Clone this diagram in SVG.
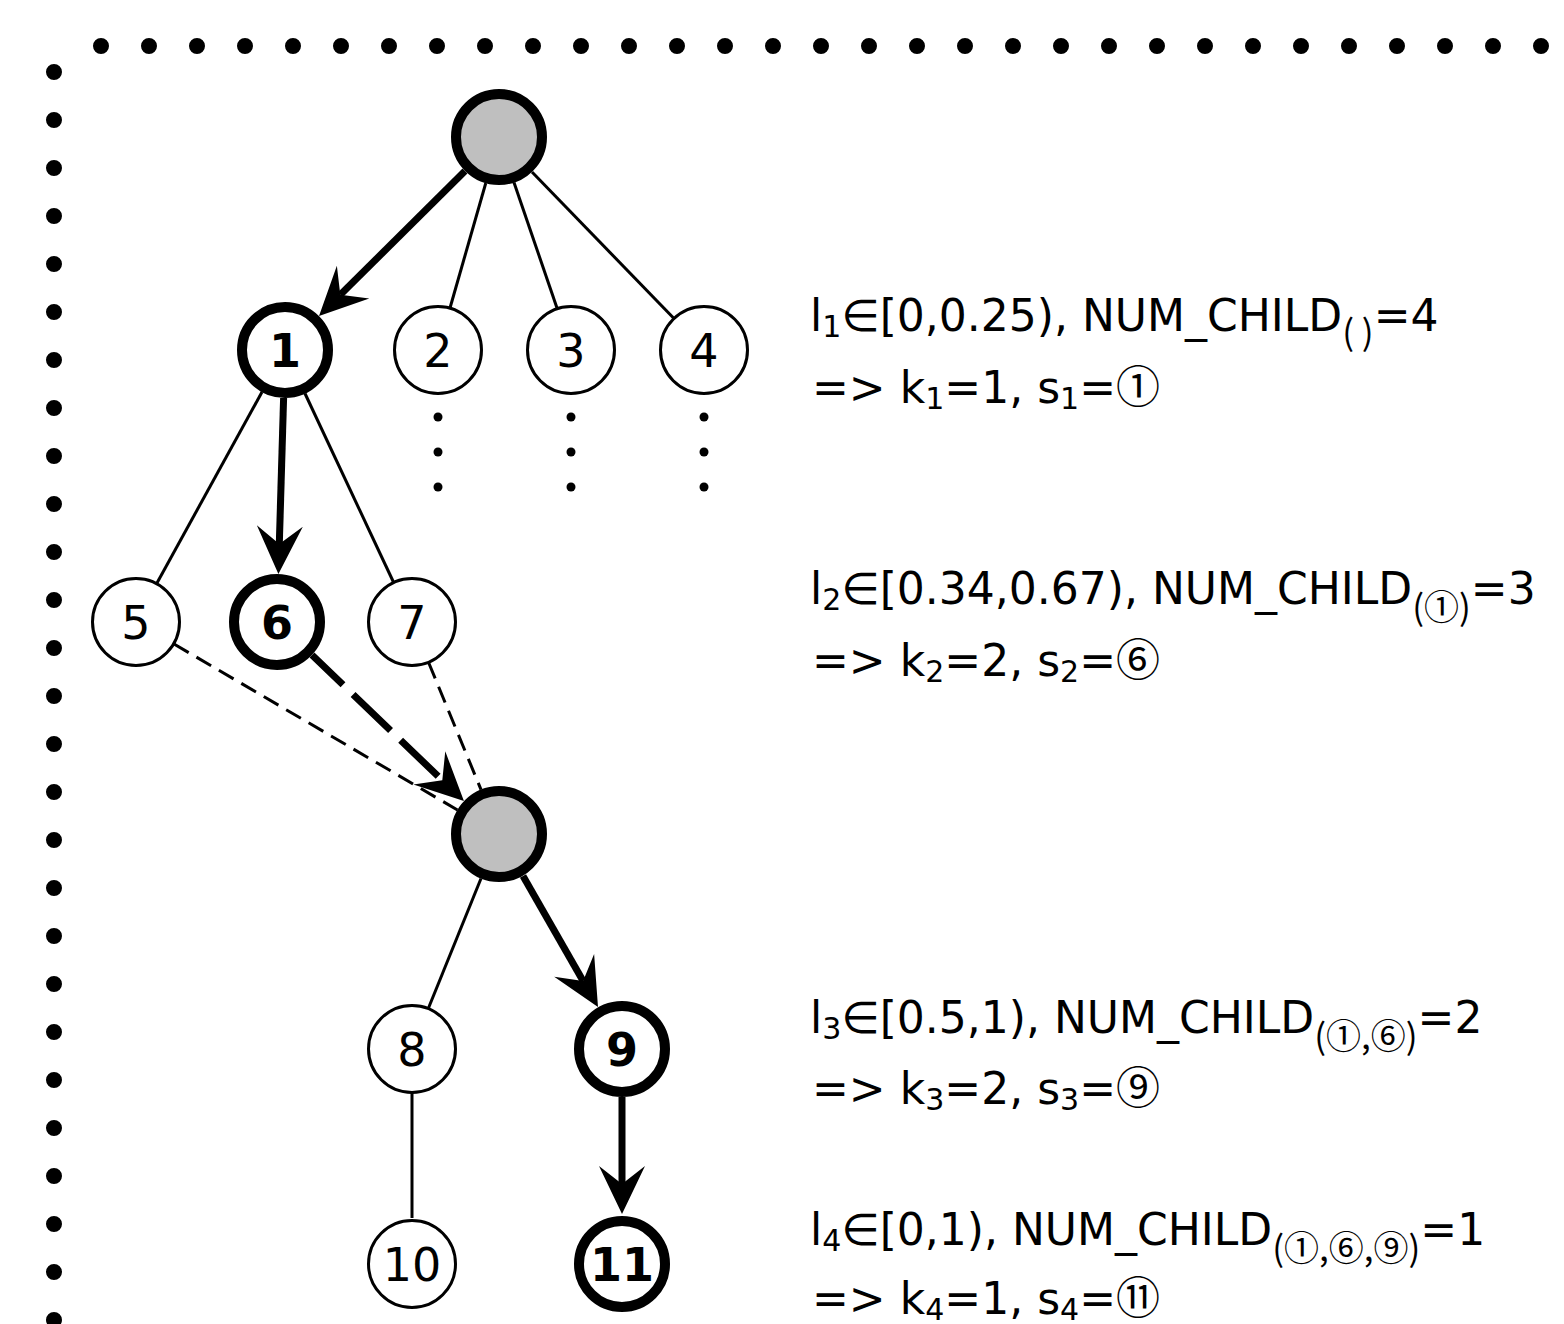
<svg xmlns="http://www.w3.org/2000/svg" width="1564" height="1324" viewBox="0 0 1564 1324">
<style>
  .border{fill:none;stroke:#000;stroke-width:16;stroke-linecap:round;stroke-dasharray:0 48}
  .thin{fill:#fff;stroke:#000;stroke-width:3}
  .thick{fill:#fff;stroke:#000;stroke-width:10}
  .gray{fill:#bfbfbf;stroke:#000;stroke-width:10}
  .lbl{font-family:"DejaVu Sans",sans-serif;font-size:46px;text-anchor:middle;fill:#000}
  .lblb{font-family:"DejaVu Sans",sans-serif;font-size:46px;font-weight:bold;text-anchor:middle;fill:#000}
  .e{fill:none;stroke:#000;stroke-width:3}
  .ed{fill:none;stroke:#000;stroke-width:3;stroke-dasharray:17 9}
  .et{fill:none;stroke:#000;stroke-width:7}
  .etd{fill:none;stroke:#000;stroke-width:7;stroke-dasharray:52 14;stroke-dashoffset:9}
  .dot{fill:#000}
  .txt{font-family:"DejaVu Sans","Noto Sans CJK SC",sans-serif;font-size:44px;fill:#000}
  .sub{font-size:30px}
  .csub{font-family:"Noto Sans CJK SC",sans-serif;font-size:35px}
  .cj{font-family:"Noto Sans CJK SC",sans-serif}
</style>
<defs>
  <marker id="arr" markerUnits="userSpaceOnUse" viewBox="0 -25 50 50" markerWidth="50" markerHeight="50" refX="18" refY="0" orient="auto" overflow="visible">
    <path d="M0,-23 L48,0 L0,23 L18,0 Z" fill="#000"/>
  </marker>
</defs>
<g id="border">
  <path class="border" d="M101,46 H1550"/>
  <path class="border" d="M54,72 V1330"/>
</g>
<g id="connectors">
  <path class="et" d="M465,171 L340.3,294.8" marker-end="url(#arr)"/>
  <path class="e" d="M485.8,183 L450,308"/>
  <path class="e" d="M514,182.5 L557,308"/>
  <path class="e" d="M532,172 L673.5,318"/>
  <path class="e" d="M262,392 L157,583"/>
  <path class="et" d="M283.6,398 L279.3,544" marker-end="url(#arr)"/>
  <path class="e" d="M305,393.5 L393.4,582"/>
  <path class="ed" d="M174,644 L457.5,810"/>
  <path class="etd" d="M312,655 L442.3,780.3" marker-end="url(#arr)"/>
  <path class="ed" d="M428.7,662.7 L481,789.6"/>
  <path class="e" d="M481,878.5 L428.5,1008"/>
  <path class="et" d="M523,876 L583.1,981" marker-end="url(#arr)"/>
  <path class="e" d="M412,1093 L412,1218"/>
  <path class="et" d="M622,1097 L622,1184" marker-end="url(#arr)"/>
</g>
<g id="ellipsis">
  <circle class="dot" cx="438" cy="417" r="4.5"/><circle class="dot" cx="438" cy="452" r="4.5"/><circle class="dot" cx="438" cy="487" r="4.5"/>
  <circle class="dot" cx="571" cy="417" r="4.5"/><circle class="dot" cx="571" cy="452" r="4.5"/><circle class="dot" cx="571" cy="487" r="4.5"/>
  <circle class="dot" cx="704" cy="417" r="4.5"/><circle class="dot" cx="704" cy="452" r="4.5"/><circle class="dot" cx="704" cy="487" r="4.5"/>
</g>
<g id="root"><circle class="gray" cx="499" cy="137" r="43"/></g>
<g id="n1"><circle class="thick" cx="285" cy="350" r="43"/><text class="lblb" x="285" y="367">1</text></g>
<g id="n2"><circle class="thin" cx="438" cy="350" r="43.5"/><text class="lbl" x="438" y="367">2</text></g>
<g id="n3"><circle class="thin" cx="571" cy="350" r="43.5"/><text class="lbl" x="571" y="367">3</text></g>
<g id="n4"><circle class="thin" cx="704" cy="350" r="43.5"/><text class="lbl" x="704" y="367">4</text></g>
<g id="n5"><circle class="thin" cx="136" cy="622" r="43.5"/><text class="lbl" x="136" y="639">5</text></g>
<g id="n6"><circle class="thick" cx="277" cy="622" r="43"/><text class="lblb" x="277" y="639">6</text></g>
<g id="n7"><circle class="thin" cx="412" cy="622" r="43.5"/><text class="lbl" x="412" y="639">7</text></g>
<g id="mid"><circle class="gray" cx="499" cy="834" r="43"/></g>
<g id="n8"><circle class="thin" cx="412" cy="1049" r="43.5"/><text class="lbl" x="412" y="1066">8</text></g>
<g id="n9"><circle class="thick" cx="622" cy="1049" r="43"/><text class="lblb" x="622" y="1066">9</text></g>
<g id="n10"><circle class="thin" cx="412" cy="1264" r="43.5"/><text class="lbl" x="412" y="1281">10</text></g>
<g id="n11"><circle class="thick" cx="622" cy="1264" r="43"/><text class="lblb" x="622" y="1281">11</text></g>
<g id="labels">
  <text class="txt" x="810" y="331">l<tspan class="sub" dy="6">1</tspan><tspan dy="-6">∈[0,0.25), NUM_CHILD</tspan><tspan class="csub" dy="14">( )</tspan><tspan dy="-14">=4</tspan></text>
  <text class="txt" x="812" y="403">=&gt; k<tspan class="sub" dy="6">1</tspan><tspan dy="-6">=1, s</tspan><tspan class="sub" dy="6">1</tspan><tspan dy="-6">=</tspan><tspan class="cj">①</tspan></text>
  <text class="txt" x="810" y="604">l<tspan class="sub" dy="6">2</tspan><tspan dy="-6">∈[0.34,0.67), NUM_CHILD</tspan><tspan class="csub" dy="16">(①)</tspan><tspan dy="-16">=3</tspan></text>
  <text class="txt" x="812" y="676">=&gt; k<tspan class="sub" dy="6">2</tspan><tspan dy="-6">=2, s</tspan><tspan class="sub" dy="6">2</tspan><tspan dy="-6">=</tspan><tspan class="cj">⑥</tspan></text>
  <text class="txt" x="810" y="1033">l<tspan class="sub" dy="6">3</tspan><tspan dy="-6">∈[0.5,1), NUM_CHILD</tspan><tspan class="csub" dy="16">(①,⑥)</tspan><tspan dy="-16">=2</tspan></text>
  <text class="txt" x="812" y="1104">=&gt; k<tspan class="sub" dy="6">3</tspan><tspan dy="-6">=2, s</tspan><tspan class="sub" dy="6">3</tspan><tspan dy="-6">=</tspan><tspan class="cj">⑨</tspan></text>
  <text class="txt" x="810" y="1245">l<tspan class="sub" dy="6">4</tspan><tspan dy="-6">∈[0,1), NUM_CHILD</tspan><tspan class="csub" dy="16">(①,⑥,⑨)</tspan><tspan dy="-16">=1</tspan></text>
  <text class="txt" x="812" y="1314">=&gt; k<tspan class="sub" dy="6">4</tspan><tspan dy="-6">=1, s</tspan><tspan class="sub" dy="6">4</tspan><tspan dy="-6">=</tspan><tspan class="cj">⑪</tspan></text>
</g>
</svg>
